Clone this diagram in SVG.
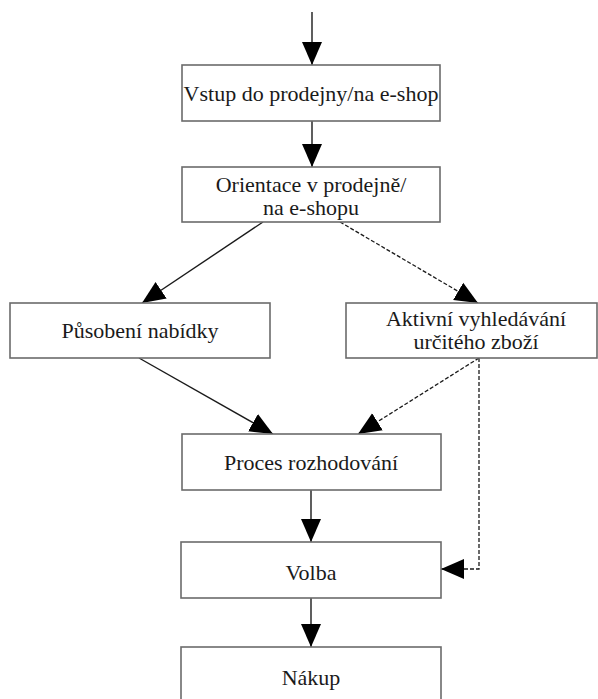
<svg xmlns="http://www.w3.org/2000/svg" width="598" height="699" viewBox="0 0 598 699">
<style>
.box{fill:#fff;stroke:#6b6b6b;stroke-width:1.6}
.t{font-family:"Liberation Serif","Times New Roman",serif;font-size:22px;fill:#1a1a1a;text-anchor:middle}
.c{fill:none;stroke:#1a1a1a;stroke-width:1.4}
.d{fill:none;stroke:#1a1a1a;stroke-width:1.3;stroke-dasharray:4 2}
</style>
<defs>
<marker id="ah" markerUnits="userSpaceOnUse" markerWidth="24" markerHeight="22" refX="23" refY="10" orient="auto" viewBox="0 0 24 20">
<path d="M0,0 L23,10 L0,20 Z" fill="#000"/>
</marker>
</defs>
<rect width="598" height="699" fill="#fff"/>
<g id="connectors">
<path class="c" d="M312,12 L312,65" marker-end="url(#ah)"/>
<path class="c" d="M312,121 L312,167" marker-end="url(#ah)"/>
<path class="c" d="M263,222 L142,303" marker-end="url(#ah)"/>
<path class="d" d="M340,222 L478,303" marker-end="url(#ah)"/>
<path class="c" d="M139,358 L273,434" marker-end="url(#ah)"/>
<path class="d" d="M479,358 L358,434" marker-end="url(#ah)"/>
<path class="c" d="M311,490 L311,542" marker-end="url(#ah)"/>
<path class="d" d="M479,358 L479,569 L441,569" marker-end="url(#ah)"/>
<path class="c" d="M311,598 L311,647" marker-end="url(#ah)"/>
</g>
<g id="n1"><rect class="box" x="182" y="65" width="258" height="56"/><text class="t" x="311" y="101">Vstup do prodejny/na e-shop</text></g>
<g id="n2"><rect class="box" x="182" y="167" width="258" height="55"/><text class="t" x="311" y="192">Orientace v prodejně/</text><text class="t" x="311" y="215">na e-shopu</text></g>
<g id="n3"><rect class="box" x="10" y="303" width="260" height="55"/><text class="t" x="140" y="338">Působení nabídky</text></g>
<g id="n4"><rect class="box" x="346" y="303" width="251" height="55"/><text class="t" x="476" y="326">Aktivní vyhledávání</text><text class="t" x="476" y="349">určitého zboží</text></g>
<g id="n5"><rect class="box" x="182" y="434" width="259" height="56"/><text class="t" x="311" y="470">Proces rozhodování</text></g>
<g id="n6"><rect class="box" x="181" y="542" width="260" height="56"/><text class="t" x="311" y="580">Volba</text></g>
<g id="n7"><rect class="box" x="181" y="647" width="260" height="56"/><text class="t" x="311" y="685">Nákup</text></g>
</svg>
